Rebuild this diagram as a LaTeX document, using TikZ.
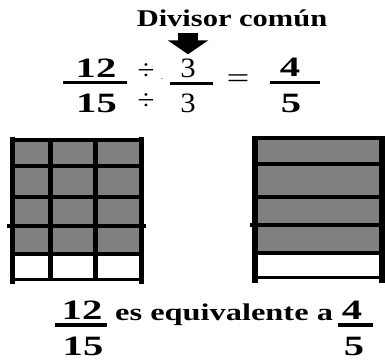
\documentclass[tikz,border=0pt]{standalone}
\usepackage{fontspec}
\setmainfont{Liberation Serif}
\newfontfamily\headfont{Liberation Serif}[FakeStretch=1.27]
\newfontfamily\numfont{Liberation Serif}[FakeStretch=1.45]
\newfontfamily\phrasefont{Liberation Serif}[FakeStretch=1.35]
\newfontfamily\opfont{Liberation Serif}[FakeStretch=1.1]
\usepackage{tikz}
\usetikzlibrary{arrows.meta}
\definecolor{cellgray}{HTML}{808080}
\tikzset{
  lbl/.style={inner sep=0pt,anchor=base},
  numb/.style={lbl,font=\numfont\bfseries\fontsize{28}{28}\selectfont},
  op/.style={lbl,font=\opfont\fontsize{28}{28}\selectfont},
  fracbar/.style={line width=3pt},
  gridline/.style={line width=4pt},
  frame/.style={line width=5pt},
  fatarrow/.style={line width=20pt,-{Triangle[width=40pt,length=14pt]}},
}

\begin{document}
\begin{tikzpicture}[x=1pt,y=-1pt]
  \useasboundingbox (0,0) rectangle (385,360);
  % heading and arrow
  \node[lbl,font=\headfont\bfseries\fontsize{24}{24}\selectfont] (divisor) at (232,26) {Divisor común};
  % top equation
  \node[numb] (n12) at (96,77) {12};
  \node[numb] (d15) at (96.5,112) {15};
  \draw[fracbar] (63,82.5) -- (127,82.5);
  \node[op] (divtop) at (146,79) {÷};
  \node[op] (divbot) at (146,109) {÷};
  \node[lbl,font=\fontsize{9}{9}\selectfont] (dot) at (162,79) {.};
  \node[op] (n3) at (188,77) {3};
  \node[op] (d3) at (188,112) {3};
  \draw[fracbar] (170,83.5) -- (213,83.5);
  \node[op,font=\numfont\fontsize{28}{28}\selectfont] (eq) at (238,87.5) {=};
  \node[numb] (n4) at (290,76) {4};
  \node[numb] (d5) at (291,112) {5};
  \draw[fracbar] (270,82) -- (320,82);
  \coordinate (arrtail) at (188,33);
  \draw[fatarrow] (arrtail) -- ([yshift=4pt]n3.north);
  % left grid: 3 x 5
  \fill[cellgray] (12.5,140) rectangle (141,254);
  \foreach \y in {165.5,197,254} \draw[gridline] (12.5,\y) -- (141,\y);
  \draw[gridline] (7,226) -- (146,226);
  \draw[line width=3.5pt] (10,140) -- (143.5,140);
  \draw[line width=3pt] (12.5,279) -- (141,279);
  \foreach \x in {50.5,95} \draw[frame] (\x,140) -- (\x,279);
  \foreach \x in {12.5,141} \draw[frame] (\x,137) -- (\x,284);
  % right grid: 1 x 5
  \fill[cellgray] (255,138) rectangle (381.5,253);
  \foreach \y in {164,197,253} \draw[gridline] (255,\y) -- (381.5,\y);
  \draw[gridline] (250,225) -- (381.5,225);
  \draw[line width=3.5pt] (253,138) -- (384,138);
  \draw[line width=3pt] (255,277) -- (381.5,277);
  \foreach \x in {255,382} \draw[frame,line width=6pt] (\x,136) -- (\x,283);
  % bottom sentence
  \node[numb] (b12) at (82,319) {12};
  \node[numb] (b15) at (83,355) {15};
  \draw[fracbar,line width=4pt] (55,324.5) -- (107,324.5);
  \node[lbl,anchor=base west,font=\phrasefont\bfseries\fontsize{24}{24}\selectfont] (phrase) at (115,320) {es equivalente a};
  \node[numb] (b4) at (352,319) {4};
  \node[numb] (b5) at (354,355) {5};
  \draw[fracbar,line width=4pt] (338,325) -- (373,325);
\end{tikzpicture}
\end{document}
